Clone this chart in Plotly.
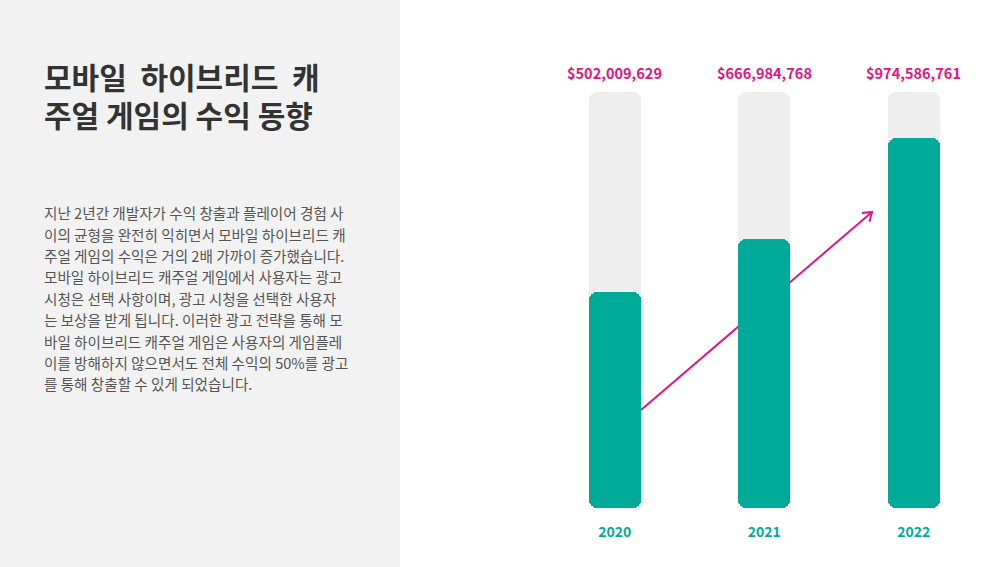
import plotly.graph_objects as go

# data
years = ["2020", "2021", "2022"]
revenue = [502009629, 666984768, 974586761]
revenue_labels = ["$502,009,629", "$666,984,768", "$974,586,761"]

title_lines = ["모바일\u00a0\u00a0하이브리드\u00a0\u00a0캐", "주얼 게임의 수익 동향"]
body_lines = [
    "지난 2년간 개발자가 수익 창출과 플레이어 경험 사",
    "이의 균형을 완전히 익히면서 모바일 하이브리드 캐",
    "주얼 게임의 수익은 거의 2배 가까이 증가했습니다.",
    "모바일 하이브리드 캐주얼 게임에서 사용자는 광고",
    "시청은 선택 사항이며, 광고 시청을 선택한 사용자",
    "는 보상을 받게 됩니다. 이러한 광고 전략을 통해 모",
    "바일 하이브리드 캐주얼 게임은 사용자의 게임플레",
    "이를 방해하지 않으면서도 전체 수익의 50%를 광고",
    "를 통해 창출할 수 있게 되었습니다.",
]

# styling
W, H = 1000, 567
TEAL = "#00AA98"
PINK = "#E2147F"
TRACK = "#EEEEEE"
PANEL = "#F2F2F2"
FONT = "Noto Sans CJK KR"

Y_FLOOR = -157e6   # axis bottom
Y_CAP = 1115e6     # top of the grey track
FOOT = 60e6        # height of the rounded foot piece
BAR_W = 0.35


def px(x, y):
    return x / W, 1 - y / H


fig = go.Figure()

# grey background tracks
fig.add_trace(go.Bar(
    x=years, y=[Y_CAP - Y_FLOOR] * len(years), base=Y_FLOOR,
    width=BAR_W, marker=dict(color=TRACK, cornerradius=8, line_width=0),
    hoverinfo="skip", showlegend=False,
))
# teal bars: main body (rounded top) + foot (rounded bottom)
fig.add_trace(go.Bar(
    x=years, y=[v - (Y_FLOOR + FOOT) for v in revenue], base=Y_FLOOR + FOOT,
    width=BAR_W, marker=dict(color=TEAL, cornerradius=8, line_width=0),
    customdata=revenue_labels, hovertemplate="%{x}: %{customdata}<extra></extra>",
    showlegend=False,
))
fig.add_trace(go.Bar(
    x=years, y=[-FOOT * 2] * len(years), base=Y_FLOOR + FOOT * 2,
    width=BAR_W, marker=dict(color=TEAL, cornerradius=8, line_width=0),
    hoverinfo="skip", showlegend=False,
))

annotations = []
for i, lab in enumerate(revenue_labels):
    annotations.append(dict(
        x=i, xref="x", y=px(0, 72)[1], yref="paper", text=lab, showarrow=False,
        font=dict(family=FONT, size=14.5, color=PINK, weight="bold"),
        xanchor="center", yanchor="middle",
    ))

for i, line in enumerate(title_lines):
    annotations.append(dict(
        x=px(42, 0)[0], y=px(0, 76 + i * 38)[1], xref="paper", yref="paper",
        text=line, showarrow=False, xanchor="left", yanchor="middle",
        font=dict(family=FONT, size=30, color="#333333", weight="bold"),
    ))
for i, line in enumerate(body_lines):
    annotations.append(dict(
        x=px(42, 0)[0], y=px(0, 212.7 + i * 21.4)[1], xref="paper", yref="paper",
        text=line, showarrow=False, xanchor="left", yanchor="middle",
        font=dict(family=FONT, size=14.6, color="#555555"),
    ))

# trend arrow (decoration, behind the bars)
ax0, ay0 = px(641, 410)
ax1, ay1 = px(872, 212)
h1x, h1y = px(862.0, 213.0)
h2x, h2y = px(869.5, 221.7)
shapes = [
    dict(type="rect", xref="paper", yref="paper", x0=0, x1=0.4, y0=0, y1=1,
         fillcolor=PANEL, line_width=0, layer="below"),
    dict(type="line", xref="paper", yref="paper", x0=ax0, y0=ay0, x1=ax1, y1=ay1,
         line=dict(color=PINK, width=2), layer="below"),
    dict(type="path", xref="paper", yref="paper",
         path=f"M {h1x} {h1y} L {ax1} {ay1} L {h2x} {h2y}",
         line=dict(color=PINK, width=2), layer="below"),
]

fig.update_layout(
    width=W, height=H,
    margin=dict(l=0, r=0, t=0, b=0),
    paper_bgcolor="white", plot_bgcolor="rgba(0,0,0,0)",
    barmode="overlay", bargap=0,
    annotations=annotations, shapes=shapes,
    xaxis=dict(
        type="category", range=[-0.5, 2.5], domain=[0.540, 0.9885],
        showgrid=False, zeroline=False, showline=False,
        ticks="outside", ticklen=11, tickcolor="rgba(0,0,0,0)",
        tickfont=dict(family=FONT, size=14, color=TEAL, weight="bold"),
        fixedrange=True,
    ),
    yaxis=dict(
        range=[Y_FLOOR, Y_CAP], domain=[59 / H, 475 / H],
        visible=False, fixedrange=True,
    ),
    font=dict(family=FONT),
)

# page body has a default 8px margin; drop it so the figure sits at (0, 0)
fig.write_html("out.html", config={"displayModeBar": False},
               post_script="document.body.style.margin='0';")
